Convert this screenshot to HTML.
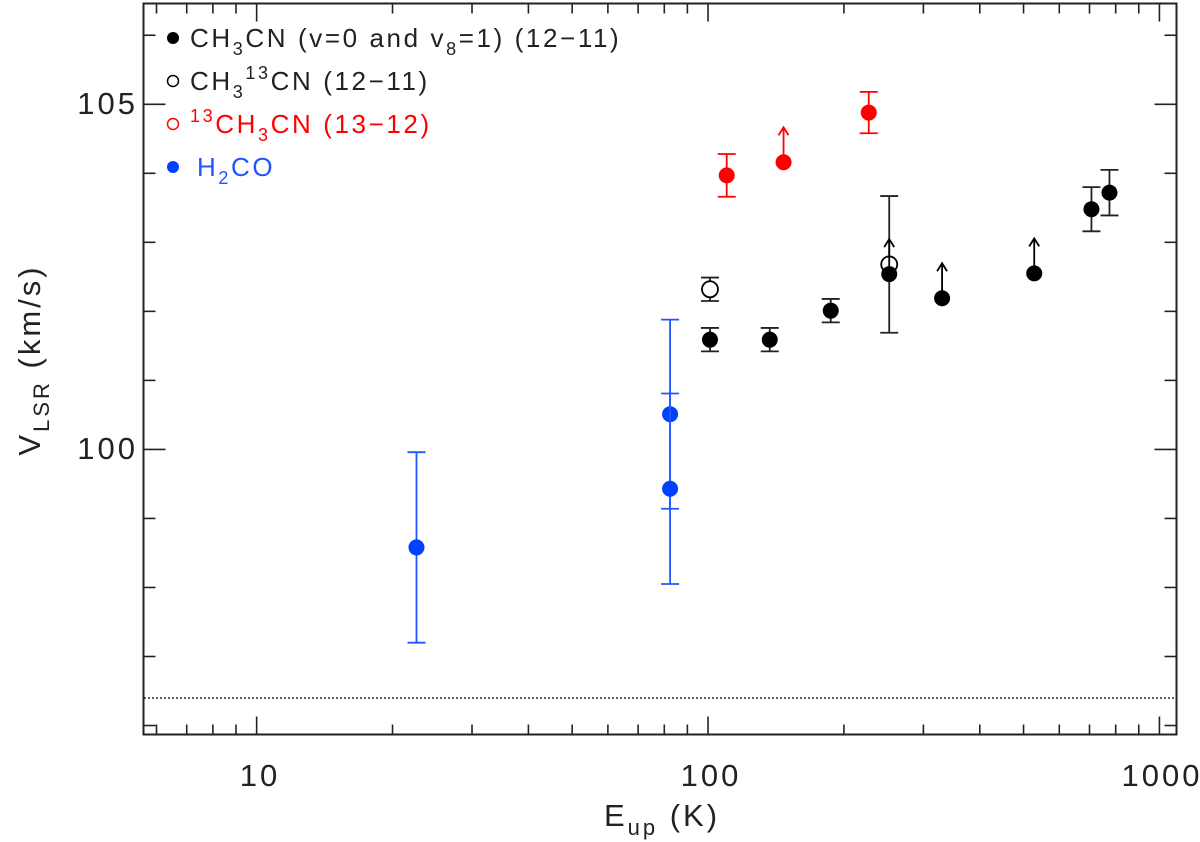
<!DOCTYPE html>
<html><head><meta charset="utf-8"><style>
html,body{margin:0;padding:0;background:#fff;}
svg{display:block;font-family:"Liberation Sans",sans-serif;}
</style></head><body>
<svg id="chart" width="1200" height="842" viewBox="0 0 1200 842">
<rect x="143.5" y="3.5" width="1033" height="731" fill="none" stroke="#222" stroke-width="2"/>
<line x1="144" x2="1176" y1="698" y2="698" stroke="#000" stroke-width="1.3" stroke-dasharray="2,2"/>
<g id="ticks"></g>
<g id="marks"></g>
<g font-size="26" letter-spacing="2.6">
 <g><circle cx="173" cy="38" r="6" fill="#000"/><text x="190" y="47" fill="#222">CH<tspan font-size="18" dy="8">3</tspan><tspan dy="-8">CN (v=0 and v</tspan><tspan font-size="18" dy="8">8</tspan><tspan dy="-8">=1) (12−11)</tspan></text></g>
 <g><circle cx="173" cy="81" r="5.5" fill="none" stroke="#000" stroke-width="1.5"/><text x="190" y="90" fill="#222">CH<tspan font-size="18" dy="8">3</tspan><tspan font-size="18" dy="-19">13</tspan><tspan dy="11">CN (12−11)</tspan></text></g>
 <g><circle cx="173" cy="124" r="5.5" fill="none" stroke="#f00" stroke-width="1.5"/><text x="190" y="133" fill="#f00"><tspan font-size="18" dy="-11">13</tspan><tspan dy="11">CH</tspan><tspan font-size="18" dy="8">3</tspan><tspan dy="-8">CN (13−12)</tspan></text></g>
 <g><circle cx="173" cy="167" r="6" fill="#0040ff"/><text x="197" y="176" fill="#2255ff">H<tspan font-size="18" dy="8">2</tspan><tspan dy="-8">CO</tspan></text></g>
</g>
<g font-size="31" fill="#222" letter-spacing="3">
 <text x="260" y="786" text-anchor="middle">10</text>
 <text x="711" y="786" text-anchor="middle">100</text>
 <text x="1162" y="786" text-anchor="middle">1000</text>
 <text x="138" y="114" text-anchor="end">105</text>
 <text x="138" y="459" text-anchor="end">100</text>
 <text x="662" y="826" text-anchor="middle">E<tspan font-size="22" dy="9">up</tspan><tspan dy="-9"> (K)</tspan></text>
 <text transform="translate(40,360) rotate(-90)" text-anchor="middle">V<tspan font-size="22" dy="9">LSR</tspan><tspan dy="-9"> (km/s)</tspan></text>
</g>
</svg>
<script>
// data
const blackE=[101,137,187,252,330,528,707,775];
const blackV=[101.59,101.59,102.01,102.54,102.19,102.55,103.48,103.72];
const blackErr=[0.17,0.17,0.17,0,0,0,0.32,0.33];
const blackLim=[0,0,0,1,1,1,0,0];
const openE=[101,252];
const openV=[102.32,102.68];
const openErr=[0.17,0.99];
const redE=[110,147,227];
const redV=[103.97,104.16,104.88];
const redErr=[0.31,0,0.3];
const redLim=[0,1,0];
const blueE=[22.6,82.4,82.4];
const blueV=[98.58,100.51,99.43];
const blueErr=[1.38,1.37,1.38];

const X0=143.5,X1=1176.5,Y0=734.5,Y1=3.5;
const xmin=Math.log10(5.615),xmax=Math.log10(1091);
const ymin=95.87,ymax=106.46;
const xs=v=>X0+(Math.log10(v)-xmin)/(xmax-xmin)*(X1-X0);
const ys=v=>Y0-(v-ymin)/(ymax-ymin)*(Y0-Y1);
const NS='http://www.w3.org/2000/svg';
function mk(p,tag,a){const e=document.createElementNS(NS,tag);for(const k in a)e.setAttribute(k,a[k]);p.appendChild(e);return e;}
const tg=document.getElementById('ticks');
for(let d=1;d<=1000;d*=10)for(let m=1;m<10;m++){const v=d*m;if(v<5.615||v>1091)continue;const x=xs(v);const L=m==1?18:10;
 const a=mk(tg,'line',{x1:x,x2:x,y1:Y0,y2:Y0-L,stroke:'#222','stroke-width':1.6});
 
 
 const b=mk(tg,'line',{x1:x,x2:x,y1:Y1,y2:Y1+L,stroke:'#222','stroke-width':1.6});
 
 }
for(let v=96;v<=106;v++){const y=ys(v);const L=(v%5==0)?22:12;
 const a=mk(tg,'line',{x1:X0,x2:X0+L,y1:y,y2:y,stroke:'#222','stroke-width':1.6});
 
 
 const b=mk(tg,'line',{x1:X1,x2:X1-L,y1:y,y2:y,stroke:'#222','stroke-width':1.6});
 
 }
const mg=document.getElementById('marks');
function errbar(x,v,e,c){const g=mk(mg,'g',{stroke:c,'stroke-width':1.8,fill:'none'});
 
 
 const t=ys(v+e),b=ys(v-e);mk(g,'line',{x1:x,x2:x,y1:t,y2:b});mk(g,'line',{x1:x-9,x2:x+9,y1:t,y2:t});mk(g,'line',{x1:x-9,x2:x+9,y1:b,y2:b});}
function arrow(x,y,c){const g=mk(mg,'g',{stroke:c,'stroke-width':1.8,fill:'none'});
 
 
 mk(g,'line',{x1:x,x2:x,y1:y,y2:y-35});mk(g,'polyline',{points:`${x-5},${y-27} ${x},${y-35} ${x+5},${y-27}`});}
function dot(x,y,c,filled){const e=mk(mg,'circle',{cx:x,cy:y,r:8,fill:filled?c:'#fff',stroke:c,'stroke-width':filled?0:1.8});
 
 }
openE.forEach((E,i)=>{const x=xs(E),y=ys(openV[i]);errbar(x,openV[i],openErr[i],'#222');dot(x,y,'#000',false);});
blackE.forEach((E,i)=>{const x=xs(E),y=ys(blackV[i]);if(blackErr[i])errbar(x,blackV[i],blackErr[i],'#222');if(blackLim[i])arrow(x,y,'#000');dot(x,y,'#000',true);});
redE.forEach((E,i)=>{const x=xs(E),y=ys(redV[i]);if(redErr[i])errbar(x,redV[i],redErr[i],'#f00');if(redLim[i])arrow(x,y,'#f00');dot(x,y,'#f00',true);});
blueE.forEach((E,i)=>{const x=xs(E),y=ys(blueV[i]);errbar(x,blueV[i],blueErr[i],'#2255ff');dot(x,y,'#0040ff',true);});
</script>
</body></html>
